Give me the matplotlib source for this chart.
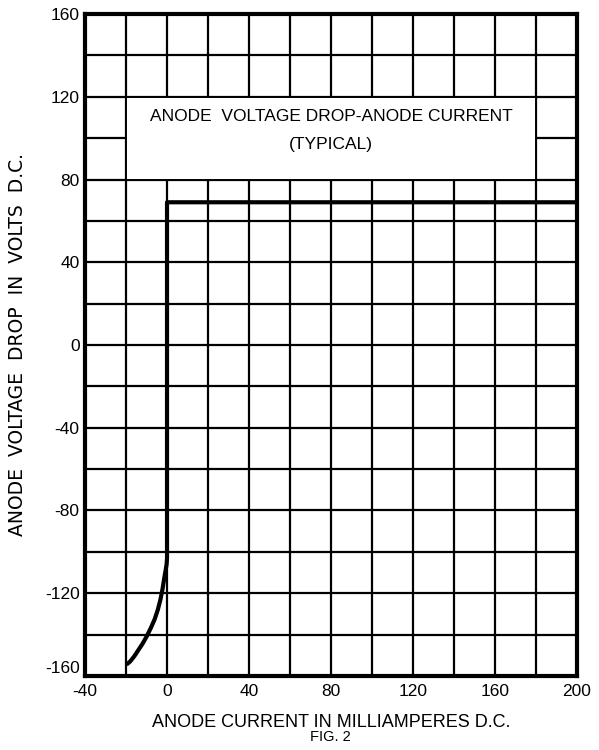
import matplotlib.pyplot as plt
from matplotlib.patches import Rectangle

# curve: (mA, volts)
curve_x = [-19.8, -18.0, -16.0, -14.0, -12.0, -10.0, -8.0, -6.0, -4.5, -3.2, -2.2, -1.4, -0.7, -0.2, 0.0, 0.0, 200.0]
curve_y = [-154.5, -153.0, -150.5, -147.5, -144.5, -141.0, -137.0, -132.5, -128.0, -123.0, -118.0, -113.0, -109.0, -106.0, -103.0, 69.0, 69.0]

x_ticks = [-40, 0, 40, 80, 120, 160, 200]
y_ticks = [160, 120, 80, 40, 0, -40, -80, -120, -160]

plt.rcParams['font.family'] = ['Liberation Sans', 'DejaVu Sans']

fig = plt.figure(figsize=(5.99, 7.5), dpi=100)
ax = fig.add_axes([0.142, 0.0987, 0.821, 0.8826])

ax.set_xlim(-40, 200)
ax.set_ylim(-160, 160)

# grid every 20 units
for gx in range(-40, 201, 20):
    ax.axvline(gx, color='black', lw=1.6, zorder=1)
for gy in range(-160, 161, 20):
    ax.axhline(gy, color='black', lw=1.6, zorder=1)

# title box covering the grid
ax.add_patch(Rectangle((-20, 80), 200, 40, facecolor='white', edgecolor='black',
                       lw=1.4, zorder=2))
ax.text(80, 110.5, 'ANODE  VOLTAGE DROP-ANODE CURRENT', ha='center', va='center',
        fontsize=12.5, zorder=3)
ax.text(80, 97, '(TYPICAL)', ha='center', va='center', fontsize=12.5, zorder=3)

ax.plot(curve_x, curve_y, color='black', lw=3, zorder=4, solid_capstyle='butt',
        solid_joinstyle='round')

ax.set_xticks(x_ticks)
ax.set_xticklabels([str(v) for v in x_ticks], fontsize=12.5)
ax.set_yticks(y_ticks)
ax.set_yticklabels([str(v) for v in y_ticks], fontsize=12.5)
ax.tick_params(length=0)
ax.tick_params(axis='x', pad=6)
ax.tick_params(axis='y', pad=4)
ax.get_yticklabels()[-1].set_va('bottom')

for s in ax.spines.values():
    s.set_linewidth(3)
    s.set_zorder(5)

ax.set_xlabel('ANODE CURRENT IN MILLIAMPERES D.C.', fontsize=13)
ax.xaxis.set_label_coords(0.5, -0.058)
ax.set_ylabel('ANODE  VOLTAGE  DROP  IN  VOLTS  D.C.', fontsize=13.5, family='DejaVu Sans')
ax.yaxis.set_label_coords(-0.118, 0.5)
fig.text(0.551, 0.017, 'FIG. 2', ha='center', va='center', fontsize=10.5)

fig.savefig('out.png', dpi=100)
